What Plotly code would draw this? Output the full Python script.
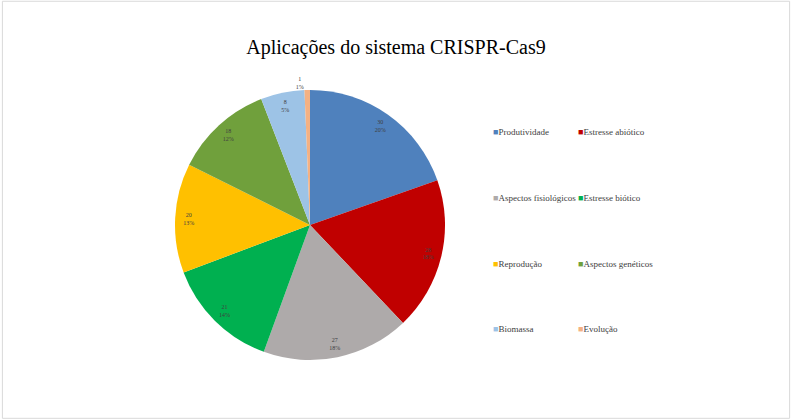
import plotly.graph_objects as go

categories = ["Produtividade", "Estresse abiótico", "Aspectos fisiológicos", "Estresse biótico",
              "Reprodução", "Aspectos genéticos", "Biomassa", "Evolução"]
values = [30, 28, 27, 21, 20, 18, 8, 1]
colors = ["#4f81bd", "#c00000", "#aeaaaa", "#00b050", "#ffc000", "#70a03c", "#9dc3e6", "#f4b183"]

W, H = 792, 420
serif = "Liberation Serif, Times New Roman, serif"

fig = go.Figure()

dom = dict(x=[175 / W, 445 / W], y=[1 - 360 / H, 1 - 90 / H])

fig.add_trace(go.Pie(
    labels=categories, values=values, sort=False, direction="clockwise", rotation=0,
    marker=dict(colors=colors, line=dict(width=0)), textinfo="none",
    domain=dom, showlegend=False,
))
fig.add_trace(go.Pie(
    labels=categories, values=values, sort=False, direction="clockwise", rotation=0,
    hole=0.8, marker=dict(colors=["rgba(0,0,0,0)"] * len(values), line=dict(width=0)),
    texttemplate="%{value}<br>%{percent:.0%}",
    textposition=["inside"] * (len(values) - 1) + ["outside"],
    insidetextorientation="horizontal",
    textfont=dict(family=serif, size=6, color="#404040"),
    outsidetextfont=dict(family=serif, size=6, color="#404040"),
    domain=dom, showlegend=False, hoverinfo="skip",
))

# legend drawn as text entries in two columns
col_x = [491, 576]
rows_y = [132, 198, 264, 329]
annotations = []
for i, (cat, col) in enumerate(zip(categories, colors)):
    annotations.append(dict(
        xref="paper", yref="paper", x=col_x[i % 2] / W, y=1 - rows_y[i // 2] / H,
        xanchor="left", yanchor="middle", showarrow=False,
        text=f"<span style='color:{col};font-size:9px'>■</span>{cat}",
        font=dict(family=serif, size=9, color="#404040"),
    ))

fig.update_layout(
    width=W, height=H,
    margin=dict(l=0, r=0, t=0, b=0),
    paper_bgcolor="white", plot_bgcolor="white",
    showlegend=False,
    title=dict(text="Aplicações do sistema CRISPR-Cas9", x=0.5, y=1 - 47 / H,
               xanchor="center", yanchor="middle",
               font=dict(family=serif, size=20, color="#000000")),
    annotations=annotations,
    shapes=[dict(type="rect", xref="paper", yref="paper", x0=0.003, x1=0.997, y0=0.004, y1=0.997,
                 line=dict(color="#d9d9d9", width=1), fillcolor="rgba(0,0,0,0)")],
)

fig.write_html("out.html", config={"displayModeBar": False},
               post_script="document.body.style.margin='0';")
